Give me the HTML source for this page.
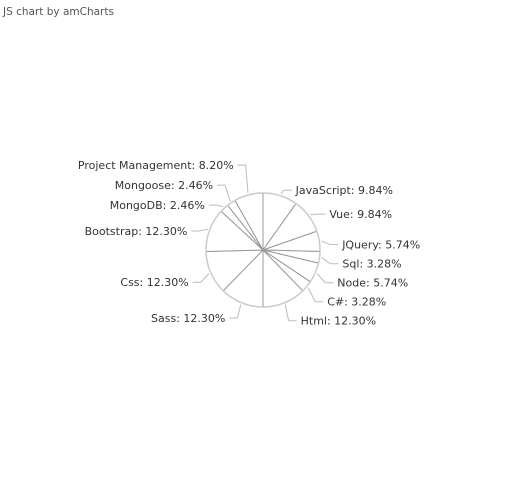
<!DOCTYPE html>
<html><head><meta charset="utf-8"><style>
body{margin:0;background:#fff;width:524px;height:500px;overflow:hidden;font-family:"DejaVu Sans",Verdana,sans-serif}
</style></head><body>
<svg id="c" width="524" height="500" font-family="DejaVu Sans, Verdana, sans-serif">
<text x="3" y="15" font-size="10.5" fill="#555">JS chart by amCharts</text>
<g id="slices"></g><g id="labels"></g>
</svg>
<script>
const categories=["JavaScript","Vue","JQuery","Sql","Node","C#","Html","Sass","Css","Bootstrap","MongoDB","Mongoose","Project Management"];
const values=[9.84,9.84,5.74,3.28,5.74,3.28,12.30,12.30,12.30,12.30,2.46,2.46,8.20];
const NS="http://www.w3.org/2000/svg";
const cx=263,cy=250,r=57,R=68;
const total=values.reduce((a,b)=>a+b,0);
const sg=document.getElementById('slices'),lg=document.getElementById('labels');
function pt(a,rad){return [cx+rad*Math.sin(a),cy-rad*Math.cos(a)];}
let cum=0;const labs=[];
values.forEach((v,i)=>{
  const a0=cum/total*2*Math.PI;cum+=v;const a1=cum/total*2*Math.PI;
  const p0=pt(a0,r),p1=pt(a1,r);const large=(a1-a0)>Math.PI?1:0;
  const p=document.createElementNS(NS,'path');
  p.setAttribute('d',`M${cx},${cy}L${p0[0]},${p0[1]}A${r},${r} 0 ${large} 1 ${p1[0]},${p1[1]}Z`);
  p.setAttribute('fill','#fff');p.setAttribute('stroke','#999');p.setAttribute('stroke-width','1');
  
  
  sg.appendChild(p);
  const am=(a0+a1)/2;const e=pt(am,r+2),q=pt(am,R);
  labs.push({i,am,e,qx:q[0],y:q[1]+5,right:Math.sin(am)>=0});
});
const ring=document.createElementNS(NS,'circle');
ring.setAttribute('cx',cx);ring.setAttribute('cy',cy);ring.setAttribute('r',r);ring.setAttribute('fill','none');ring.setAttribute('stroke','#ccc');ring.setAttribute('stroke-width','1.5');


sg.appendChild(ring);
const rightL=labs.filter(l=>l.right).sort((a,b)=>a.y-b.y);
for(let k=1;k<rightL.length;k++)if(rightL[k].y<rightL[k-1].y+19)rightL[k].y=rightL[k-1].y+19;
const leftL=labs.filter(l=>!l.right).sort((a,b)=>b.y-a.y);
for(let k=1;k<leftL.length;k++)if(leftL[k].y>leftL[k-1].y-20)leftL[k].y=leftL[k-1].y-20;
labs.forEach(l=>{
  const s=l.right?1:-1;
  const pl=document.createElementNS(NS,'polyline');
  pl.setAttribute('points',`${l.e[0]},${l.e[1]} ${l.qx},${l.y} ${l.qx+s*8},${l.y}`);
  pl.setAttribute('fill','none');pl.setAttribute('stroke','#bbb');
  
  
  lg.appendChild(pl);
  const t=document.createElementNS(NS,'text');
  t.setAttribute('x',l.qx+s*12);t.setAttribute('y',l.y+4);
  t.setAttribute('font-size','11');t.setAttribute('fill','#333');
  t.setAttribute('text-anchor',l.right?'start':'end');
  t.textContent=categories[l.i]+': '+values[l.i].toFixed(2)+'%';
  
  
  lg.appendChild(t);
});
</script>
</body></html>
